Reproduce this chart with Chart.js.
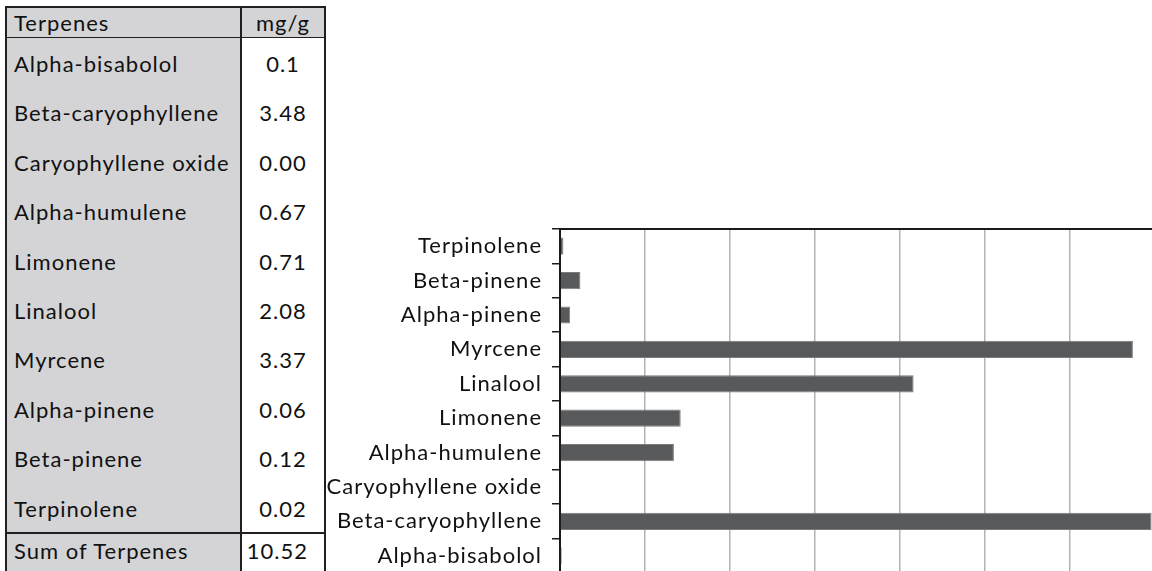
<!DOCTYPE html>
<html>
<head>
<meta charset="utf-8">
<script src="https://cdn.jsdelivr.net/npm/chart.js@4.4.1/dist/chart.umd.min.js"></script>
<style>
  html, body { margin: 0; padding: 0; width: 1152px; height: 571px; overflow: hidden; background: #fff; }
  body { position: relative; font-family: "Lato", "Noto Sans", sans-serif; color: #111; }
  #tbl { position: absolute; left: 5px; top: 6px; border-collapse: collapse; font-size: 22px; letter-spacing: 1px; table-layout: fixed; z-index: 2; }
  #tbl td { padding: 0; border: 0; white-space: nowrap; }
  #tbl .name { width: 226px; padding-left: 7px; background: #d4d4d6; border-left: 2px solid #231f20; border-right: 2px solid #231f20; }
  #tbl .val { width: 82px; text-align: center; background: #fff; border-right: 2px solid #231f20; }
  #tbl tr.head td { height: 29px; background: #d4d4d6; border-top: 2px solid #231f20; border-bottom: 1.5px solid #231f20; vertical-align: middle; line-height: 24px; }
  #tbl tr.body td { height: 49.4px; vertical-align: top; }
  #tbl tr.body td div { margin-top: 14px; line-height: 24px; }
  #tbl tr.sum td { height: 42px; border-top: 2px solid #231f20; vertical-align: top; }
  #tbl tr.sum td div { margin-top: 5px; line-height: 24px; }
  #tbl tr.sum td.val { text-align: right; padding-right: 16px; width: 66px; border-left: 2px solid #231f20; }
  #wrap { position: absolute; left: 326px; top: 0; width: 834px; height: 580px; z-index: 1; }
</style>
</head>
<body>
<table id="tbl"></table>
<div id="wrap"><canvas id="c" width="834" height="580"></canvas></div>
<script>
// ---- data ----
const terpenes = ["Alpha-bisabolol", "Beta-caryophyllene", "Caryophyllene oxide", "Alpha-humulene",
  "Limonene", "Linalool", "Myrcene", "Alpha-pinene", "Beta-pinene", "Terpinolene"];
const tableValues = ["0.1", "3.48", "0.00", "0.67", "0.71", "2.08", "3.37", "0.06", "0.12", "0.02"];
const barValues = [0.01, 3.48, 0.0, 0.67, 0.71, 2.08, 3.37, 0.06, 0.12, 0.02];
const headerLabels = ["Terpenes", "mg/g"];
const sumLabel = "Sum of Terpenes";
const sumValue = "10.52";
const xTickStep = 0.5;
const xMax = 3.5;

// ---- table ----
const tbl = document.getElementById('tbl');
let html = '<tr class="head"><td class="name">' + headerLabels[0] + '</td><td class="val" style="background:#d4d4d6">' + headerLabels[1] + '</td></tr>';
terpenes.forEach((t, i) => {
  html += '<tr class="body"><td class="name"><div>' + t + '</div></td><td class="val"><div>' + tableValues[i] + '</div></td></tr>';
});
html += '<tr class="sum"><td class="name"><div>' + sumLabel + '</div></td><td class="val"><div>' + sumValue + '</div></td></tr>';
tbl.innerHTML = html;

// ---- chart ----
const font = { family: "Lato, 'Noto Sans', sans-serif", size: 22 };
const spacing = {
  id: 'spacing',
  beforeDraw: c => { c.ctx.letterSpacing = '1px'; },
  afterDraw: c => { c.ctx.letterSpacing = '0px'; }
};
new Chart(document.getElementById('c'), {
  type: 'bar',
  plugins: [spacing],
  data: {
    labels: terpenes,
    datasets: [{
      data: barValues,
      backgroundColor: '#58595b',
      borderColor: '#7a7b7d',
      borderWidth: 1,
      barPercentage: 0.5,
      categoryPercentage: 1.0
    }]
  },
  options: {
    indexAxis: 'y',
    responsive: false,
    animation: false,
    layout: { padding: { top: 229, right: 5, bottom: 7, left: 0 } },
    plugins: { legend: { display: false }, tooltip: { enabled: false } },
    scales: {
      x: {
        position: 'top',
        min: 0,
        max: xMax,
        ticks: { display: false, stepSize: xTickStep },
        grid: { color: '#b3b3b5', lineWidth: 1.5, drawTicks: false },
        border: { display: true, color: '#1a1a1a', width: 2 },
        afterFit: s => { s.height = 0; s.paddingLeft = 0; s.paddingRight = 0; }
      },
      y: {
        reverse: true,
        offset: true,
        grid: { drawOnChartArea: false, drawTicks: true, tickLength: 8, color: '#1a1a1a', lineWidth: 1.5, offset: true },
        border: { display: true, color: '#1a1a1a', width: 2 },
        ticks: { font: font, color: '#111', padding: 10 },
        afterFit: s => { s.width = 234; s.paddingTop = 0; s.paddingBottom = 0; }
      }
    }
  }
});
</script>
</body>
</html>
